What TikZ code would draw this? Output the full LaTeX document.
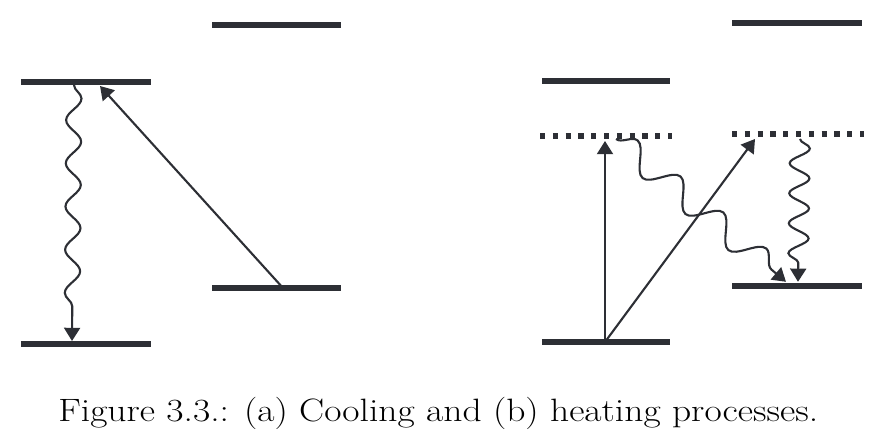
\documentclass[tikz,border=0pt]{standalone}
\usepackage{amsmath}
\usepackage{tikz}
\usetikzlibrary{arrows.meta}
\usetikzlibrary{decorations.pathmorphing}
\usetikzlibrary{positioning}
\definecolor{ink}{HTML}{2D2F35}
\tikzset{level/.style = {line width = 4.5pt, ink}}
\tikzset{virtual/.style = {line width = 4.5pt, ink, dash pattern = on 0.13cm off 0.19cm}}
\tikzset{photon/.style = {line width = 1.5pt, ink, -{Triangle[length = 0.33cm, width = 0.4cm]}}}
\tikzset{phonon/.style = {line width = 1.5pt, ink, -{Triangle[length = 0.33cm, width = 0.4cm]},
                          decorate, decoration = {snake, amplitude = 0.19cm,
                          segment length = 1.08cm, post length = 0.4cm}}}

\begin{document}
\begin{tikzpicture}
    \useasboundingbox (0, 0) rectangle (22.125, 11.025);

    % (a) cooling
    \draw [level] (0.525, 8.975) -- (3.775, 8.975);
    \draw [level] (0.525, 2.425) -- (3.775, 2.425);
    \draw [level] (5.3, 3.825) -- (8.525, 3.825);
    \draw [level] (5.3, 10.4) -- (8.525, 10.4);

    \coordinate (ahigh) at (1.85, 8.9);
    \coordinate (alow) at (1.8, 2.5);
    \coordinate (afrom) at (7.075, 3.825);
    \coordinate (ato) at (2.5, 8.875);
    \draw [phonon] (ahigh) -- (alow);
    \draw [photon] (afrom) -- (ato);

    % (b) heating
    \draw [level] (13.55, 9.0) -- (16.75, 9.0);
    \draw [level] (18.3, 10.45) -- (21.55, 10.45);
    \draw [virtual] (13.5, 7.625) -- (16.8, 7.625);
    \draw [virtual] (18.3, 7.675) -- (21.6, 7.675);
    \draw [level] (13.55, 2.475) -- (16.75, 2.475);
    \draw [level] (18.3, 3.875) -- (21.55, 3.875);

    \coordinate (bground) at (15.125, 2.475);
    \coordinate (bvirt) at (15.125, 7.5);
    \coordinate (bslant) at (18.875, 7.55);
    \coordinate (bstart) at (15.4, 7.55);
    \coordinate (bend) at (19.65, 3.98);
    \coordinate (bdown) at (20.0, 7.55);
    \coordinate (bland) at (19.95, 3.98);
    \draw [photon] (bground) -- (bvirt);
    \draw [photon] (bground) -- (bslant);
    \draw [phonon, decoration = {amplitude = 0.32cm, segment length = 1.4cm,
                                 post length = 0.4cm}] (bstart) -- (bend);
    \draw [phonon, decoration = {amplitude = 0.25cm, segment length = 0.75cm,
                                 post length = 0.4cm}] (bdown) -- (bland);

    \node (caption) [anchor = base west, inner sep = 0, xscale = 1.16, transform shape]
      at (1.45, 0.475) {\fontsize{23}{28}\selectfont Figure 3.3.: (a) Cooling and (b) heating processes.};
\end{tikzpicture}
\end{document}
